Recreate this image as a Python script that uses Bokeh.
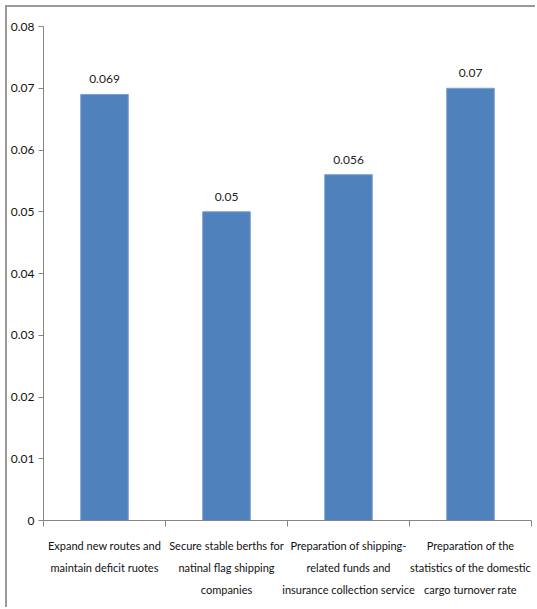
from bokeh.plotting import figure
from bokeh.models import FixedTicker, ColumnDataSource, Range1d
from bokeh.core.properties import value
from bokeh.embed import file_html
from bokeh.resources import INLINE

categories = [
    "Expand new routes and\nmaintain deficit ruotes",
    "Secure stable berths for\nnatinal flag shipping\ncompanies",
    "Preparation of shipping-\nrelated funds and\ninsurance collection service",
    "Preparation of the\nstatistics of the domestic\ncargo turnover rate",
]
values = [0.069, 0.05, 0.056, 0.07]
value_labels = ["0.069", "0.05", "0.056", "0.07"]
y_ticks = [0, 0.01, 0.02, 0.03, 0.04, 0.05, 0.06, 0.07, 0.08]
y_tick_labels = ["0", "0.01", "0.02", "0.03", "0.04", "0.05", "0.06", "0.07", "0.08"]

FONT = "Lato"
OFF = 7  # offset of the outer border

xs = [i + 0.5 for i in range(len(categories))]
src = ColumnDataSource(dict(x=xs, top=values, lbl=value_labels))

p = figure(width=537 - OFF, height=609 - OFF, output_backend="svg", toolbar_location=None,
           x_range=Range1d(0, len(categories)), y_range=Range1d(0, 0.08),
           min_border_left=41 - OFF, min_border_right=6, min_border_top=26 - OFF,
           min_border_bottom=89)
p.styles = {"margin-left": "5px", "margin-top": "5px",
            "border-left": "2px solid #9a9a9a", "border-top": "2px solid #9a9a9a"}
p.outline_line_color = None
p.xgrid.visible = False
p.ygrid.visible = False
p.background_fill_color = "white"
p.border_fill_color = "white"

p.vbar(x="x", top="top", width=0.39, bottom=0, source=src,
       fill_color="#4F81BD", line_color="#7fa0cc", line_width=1)

p.text(x="x", y="top", text="lbl", source=src, text_align="center",
       text_baseline="bottom", y_offset=-11, text_font=value(FONT),
       text_font_size="12px", text_color="#222222")

# x axis
xa = p.xaxis[0]
xa.ticker = FixedTicker(ticks=xs, minor_ticks=list(range(len(categories) + 1)))
xa.major_label_overrides = {x: c for x, c in zip(xs, categories)}
xa.major_tick_line_color = None
xa.minor_tick_in = 0
xa.minor_tick_out = 6
xa.minor_tick_line_color = "#868686"
xa.axis_line_color = "#868686"
xa.major_label_text_font = FONT
xa.major_label_text_font_size = "11px"
xa.major_label_text_color = "#111111"
xa.major_label_text_line_height = 1.7
xa.major_label_standoff = 12
xa.major_label_text_align = "center"

# y axis
ya = p.yaxis[0]
ya.ticker = FixedTicker(ticks=y_ticks, minor_ticks=[])
ya.major_label_overrides = {t: l for t, l in zip(y_ticks, y_tick_labels)}
ya.major_tick_in = 0
ya.major_tick_out = 5
ya.major_tick_line_color = "#868686"
ya.axis_line_color = "#868686"
ya.major_label_text_font = FONT
ya.major_label_text_font_size = "12px"
ya.major_label_text_color = "#111111"
ya.major_label_standoff = 4

open("out.html", "w").write(file_html(p, INLINE))
